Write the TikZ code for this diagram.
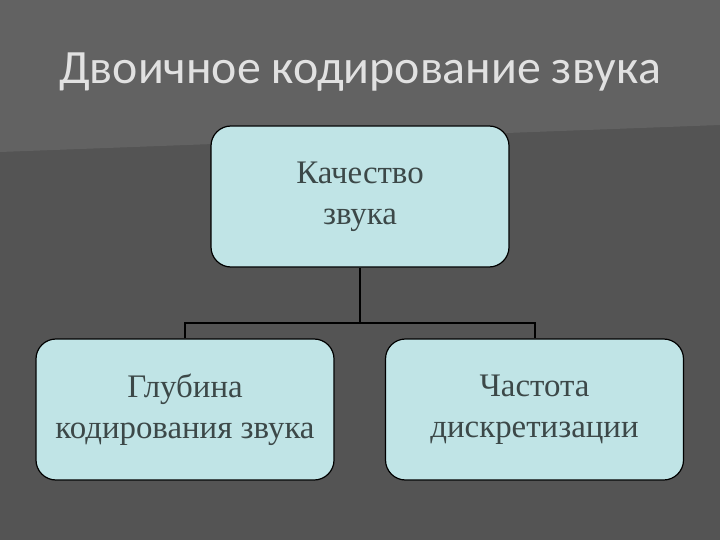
\documentclass[tikz,border=0pt]{standalone}
\usepackage{fontspec}
\setmainfont{Liberation Serif}
\newfontfamily\titlefont{Carlito}
\begin{document}
\begin{tikzpicture}[x=1bp,y=-1bp,
  box/.style={draw=black,line width=1.2bp,fill=boxc,rounded corners=20bp,minimum width=298bp,minimum height=141bp,inner sep=0,align=center,font=\fontsize{33}{41}\selectfont,text=txtc},
  link/.style={draw=black,line width=2bp}]
\definecolor{boxc}{HTML}{C0E4E6}
\definecolor{txtc}{HTML}{3C4848}
\fill[fill={rgb,255:red,84;green,84;blue,84}] (0,0) rectangle (720,540);
\fill[fill={rgb,255:red,98;green,98;blue,98}] (0,0) -- (720,0) -- (720,125) -- (0,152) -- cycle;
\useasboundingbox (0,0) rectangle (720,540);
\node[text={rgb,255:red,225;green,225;blue,225},font=\titlefont\fontsize{48}{54}\selectfont] (title) at (360,72) {Двоичное кодирование звука};
\node[box] (top) at (360,196.5) {Качество\\звука};
\node[box] (bl) at (185,409.5) {Глубина\\кодирования звука};
\node[box] (br) at (534.5,409.5) {Частота\\дискретизации};
\coordinate (j) at (360,323);
\draw[link] (top.south) -- (j);
\draw[link] (bl.north) -- (bl.north |- j) -- (br.north |- j) -- (br.north);
\end{tikzpicture}
\end{document}
